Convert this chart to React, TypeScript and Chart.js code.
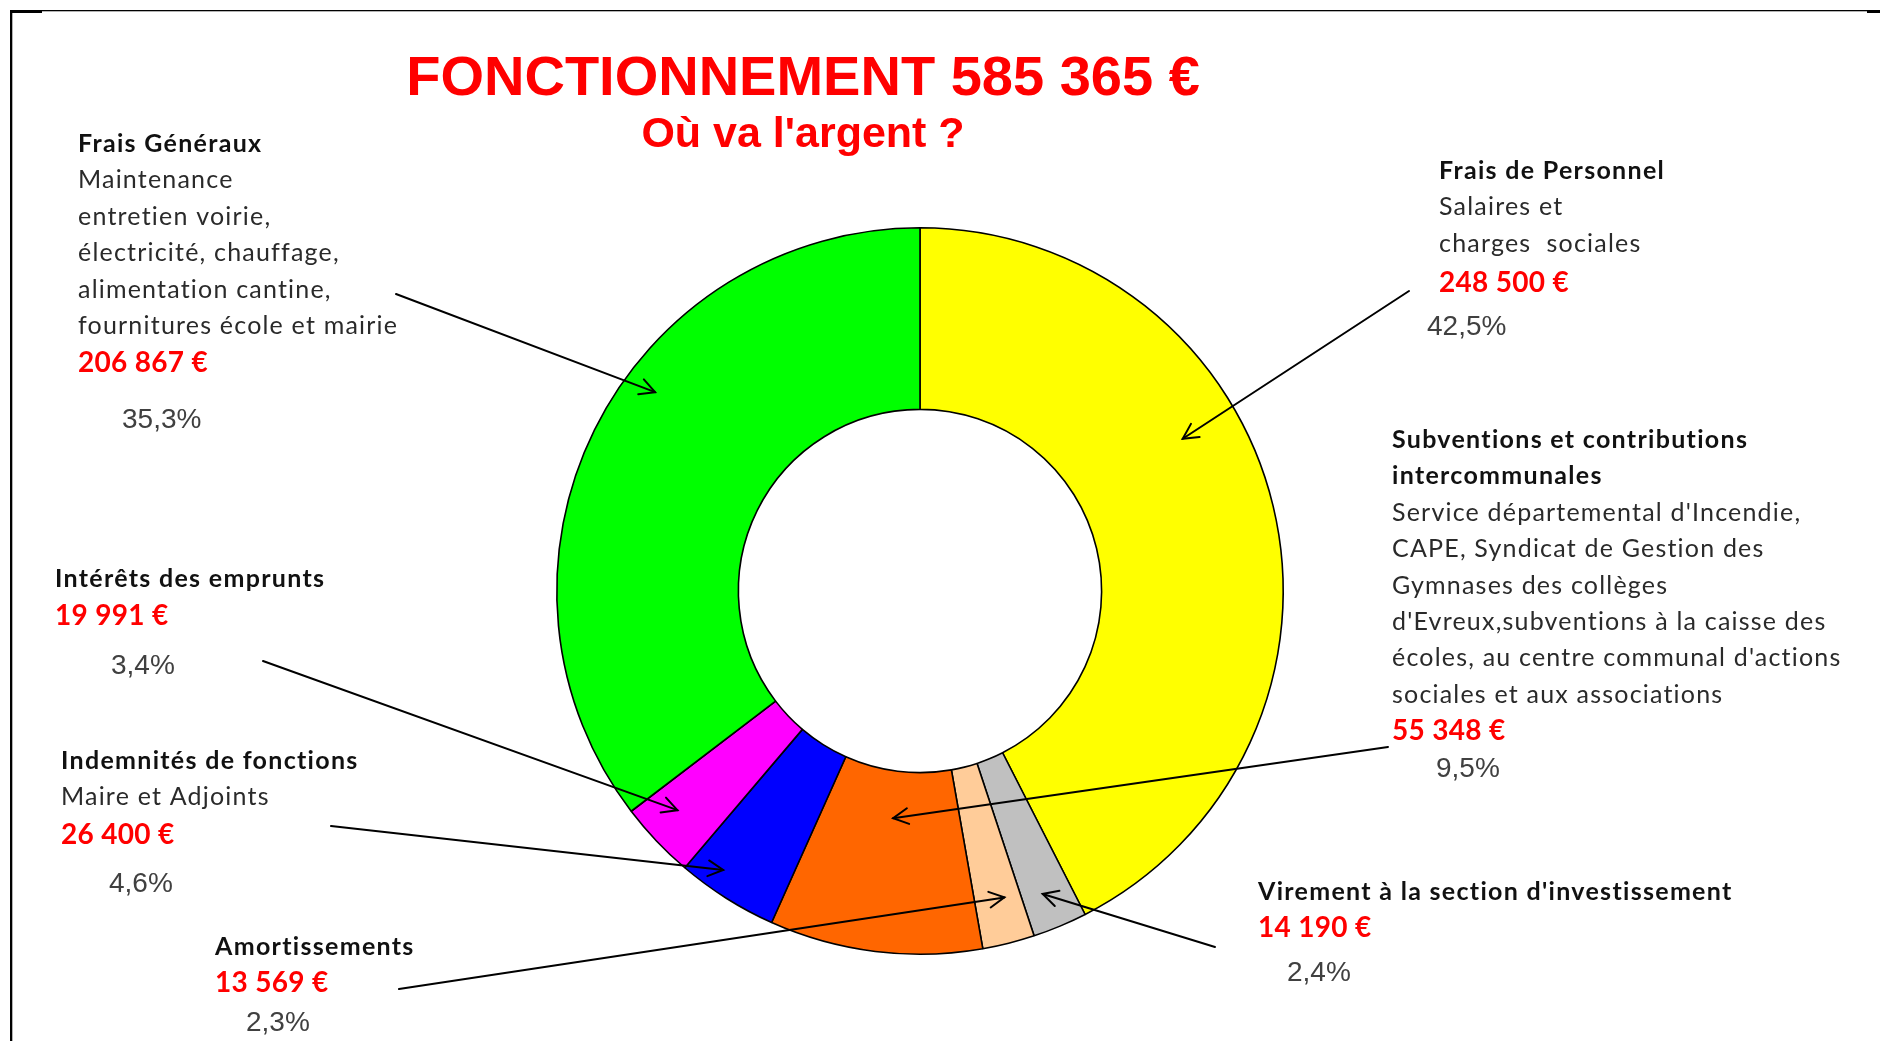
import React, { useEffect, useRef } from "react";
import { Chart, registerables } from "chart.js";

Chart.register(...registerables);

// ---- Data ----
const categories = [
  "Frais de Personnel",
  "Virement à la section d'investissement",
  "Amortissements",
  "Subventions et contributions intercommunales",
  "Indemnités de fonctions",
  "Intérêts des emprunts",
  "Frais Généraux",
];
const amounts = [248500, 14190, 13569, 55348, 26400, 19991, 206867];
const amountLabels = ["248 500 €", "14 190 €", "13 569 €", "55 348 €", "26 400 €", "19 991 €", "206 867 €"];
const percentLabels = ["42,5%", "2,4%", "2,3%", "9,5%", "4,6%", "3,4%", "35,3%"];
const headerLines = [
  ["Frais de Personnel"],
  ["Virement à la section d'investissement"],
  ["Amortissements"],
  ["Subventions et contributions", "intercommunales"],
  ["Indemnités de fonctions"],
  ["Intérêts des emprunts"],
  ["Frais Généraux"],
];
const detailLines = [
  ["Salaires et", "charges  sociales"],
  [],
  [],
  [
    "Service départemental d'Incendie,",
    "CAPE, Syndicat de Gestion des",
    "Gymnases des collèges",
    "d'Evreux,subventions à la caisse des",
    "écoles, au centre communal d'actions",
    "sociales et aux associations",
  ],
  ["Maire et Adjoints"],
  [],
  [
    "Maintenance",
    "entretien voirie,",
    "électricité, chauffage,",
    "alimentation cantine,",
    "fournitures école et mairie",
  ],
];
const titleText = "FONCTIONNEMENT 585 365 €";
const subtitleText = "Où va l'argent ?";

// ---- Styles / layout ----
const sliceColors = ["#FFFF00", "#C0C0C0", "#FFCC99", "#FF6600", "#0000FF", "#FF00FF", "#00FF00"];
const W = 1880;
const H = 1041;
const LINE_H = 36.4;
const BODY_FONT = "Lato, 'Open Sans', sans-serif";
const ARIAL = "'Liberation Sans', Arial, sans-serif";

// annotation placement: text anchor, amount/percent rows, arrow tail, arrow tip (angle from top clockwise, fraction of outer radius)
const annot = [
  { x: 1439, y0: 171, amountY: 283, pctX: 1427, pctY: 327, fromX: 1409, fromY: 291, tipAngle: 59.9, tipR: 0.836 },
  { x: 1258, y0: 892, amountY: 928, pctX: 1287, pctY: 973, fromX: 1215, fromY: 947, tipAngle: 157.95, tipR: 0.9 },
  { x: 215, y0: 947, amountY: 983, pctX: 246, pctY: 1023, fromX: 399, fromY: 989, tipAngle: 164.6, tipR: 0.875 },
  { x: 1392, y0: 440, amountY: 731, pctX: 1436, pctY: 769, fromX: 1388, fromY: 747, tipAngle: 186.75, tipR: 0.63 },
  { x: 61, y0: 761, amountY: 835, pctX: 109, pctY: 884, fromX: 331, fromY: 826, tipAngle: 215.2, tipR: 0.94 },
  { x: 55, y0: 579, amountY: 616, pctX: 111, pctY: 666, fromX: 263, fromY: 661, tipAngle: 227.9, tipR: 0.9 },
  { x: 78, y0: 144, amountY: 363, pctX: 122, pctY: 420, fromX: 396, fromY: 294, tipAngle: 306.9, tipR: 0.912 },
];

function drawArrow(ctx: CanvasRenderingContext2D, x1: number, y1: number, x2: number, y2: number) {
  ctx.save();
  ctx.strokeStyle = "#000";
  ctx.lineWidth = 2;
  ctx.lineCap = "round";
  ctx.beginPath();
  ctx.moveTo(x1, y1);
  ctx.lineTo(x2, y2);
  ctx.stroke();
  const a = Math.atan2(y2 - y1, x2 - x1);
  const len = 17;
  const spread = Math.PI / 6.5;
  ctx.beginPath();
  ctx.moveTo(x2 - len * Math.cos(a - spread), y2 - len * Math.sin(a - spread));
  ctx.lineTo(x2, y2);
  ctx.lineTo(x2 - len * Math.cos(a + spread), y2 - len * Math.sin(a + spread));
  ctx.stroke();
  ctx.restore();
}

const annotationPlugin = {
  id: "annotations",
  afterDraw(chart: any) {
    const ctx: any = chart.ctx;
    const meta = chart.getDatasetMeta(0);
    const arc0 = meta.data[0];
    const cx = arc0.x;
    const cy = arc0.y;
    const R = arc0.outerRadius;

    ctx.save();
    // frame
    ctx.fillStyle = "#000";
    ctx.fillRect(10, 10, W - 10, 1.3);
    ctx.fillRect(10, 10, 32, 3);
    ctx.fillRect(W - 13, 10, 13, 3);
    ctx.fillRect(10, 10, 2.3, H - 10);

    // title
    ctx.fillStyle = "#FF0000";
    ctx.textAlign = "center";
    ctx.textBaseline = "alphabetic";
    ctx.font = `bold 56px ${ARIAL}`;
    ctx.fillText(titleText, 803, 95);
    ctx.font = `bold 43px ${ARIAL}`;
    ctx.fillText(subtitleText, 803, 147);

    // annotations
    ctx.textAlign = "left";
    ctx.textBaseline = "middle";
    categories.forEach((_, i) => {
      const a = annot[i];
      let y = a.y0;
      ctx.font = `bold 25px ${BODY_FONT}`;
      ctx.letterSpacing = "1.3px";
      ctx.fillStyle = "#111111";
      headerLines[i].forEach((t) => {
        ctx.fillText(t, a.x, y);
        y += LINE_H;
      });
      ctx.font = `25px ${BODY_FONT}`;
      ctx.letterSpacing = "1.2px";
      ctx.fillStyle = "#2a2a2a";
      detailLines[i].forEach((t) => {
        ctx.fillText(t, a.x, y);
        y += LINE_H;
      });
      ctx.font = `bold 28px ${BODY_FONT}`;
      ctx.letterSpacing = "0.3px";
      ctx.fillStyle = "#FF0000";
      ctx.fillText(amountLabels[i], a.x, a.amountY);
      ctx.letterSpacing = "0px";
      ctx.font = `28px ${ARIAL}`;
      ctx.fillStyle = "#404040";
      ctx.fillText(percentLabels[i], a.pctX, a.pctY);

      const th = (a.tipAngle * Math.PI) / 180;
      const tx = cx + a.tipR * R * Math.sin(th);
      const ty = cy - a.tipR * R * Math.cos(th);
      drawArrow(ctx, a.fromX, a.fromY, tx, ty);
    });
    ctx.restore();
  },
};

export default function App() {
  const canvasRef = useRef<HTMLCanvasElement | null>(null);

  useEffect(() => {
    const canvas = canvasRef.current;
    if (!canvas) return;
    const chart = new Chart(canvas, {
      type: "doughnut",
      data: {
        labels: categories,
        datasets: [
          {
            data: amounts,
            backgroundColor: sliceColors,
            borderColor: "#000000",
            borderWidth: 1.6,
          },
        ],
      },
      options: {
        responsive: false,
        animation: false,
        devicePixelRatio: 1,
        cutout: "50%",
        rotation: 0,
        layout: { padding: { left: 556, right: 596, top: 227, bottom: 86 } },
        plugins: {
          legend: { display: false },
          tooltip: { enabled: false },
          title: { display: false },
        },
        events: [],
      },
      plugins: [annotationPlugin],
    });
    return () => chart.destroy();
  }, []);

  return (
    <div style={{ position: "absolute", left: 0, top: 0, width: W, height: H, background: "#fff" }}>
      <canvas ref={canvasRef} width={W} height={H} style={{ display: "block", width: W, height: H }} />
    </div>
  );
}
